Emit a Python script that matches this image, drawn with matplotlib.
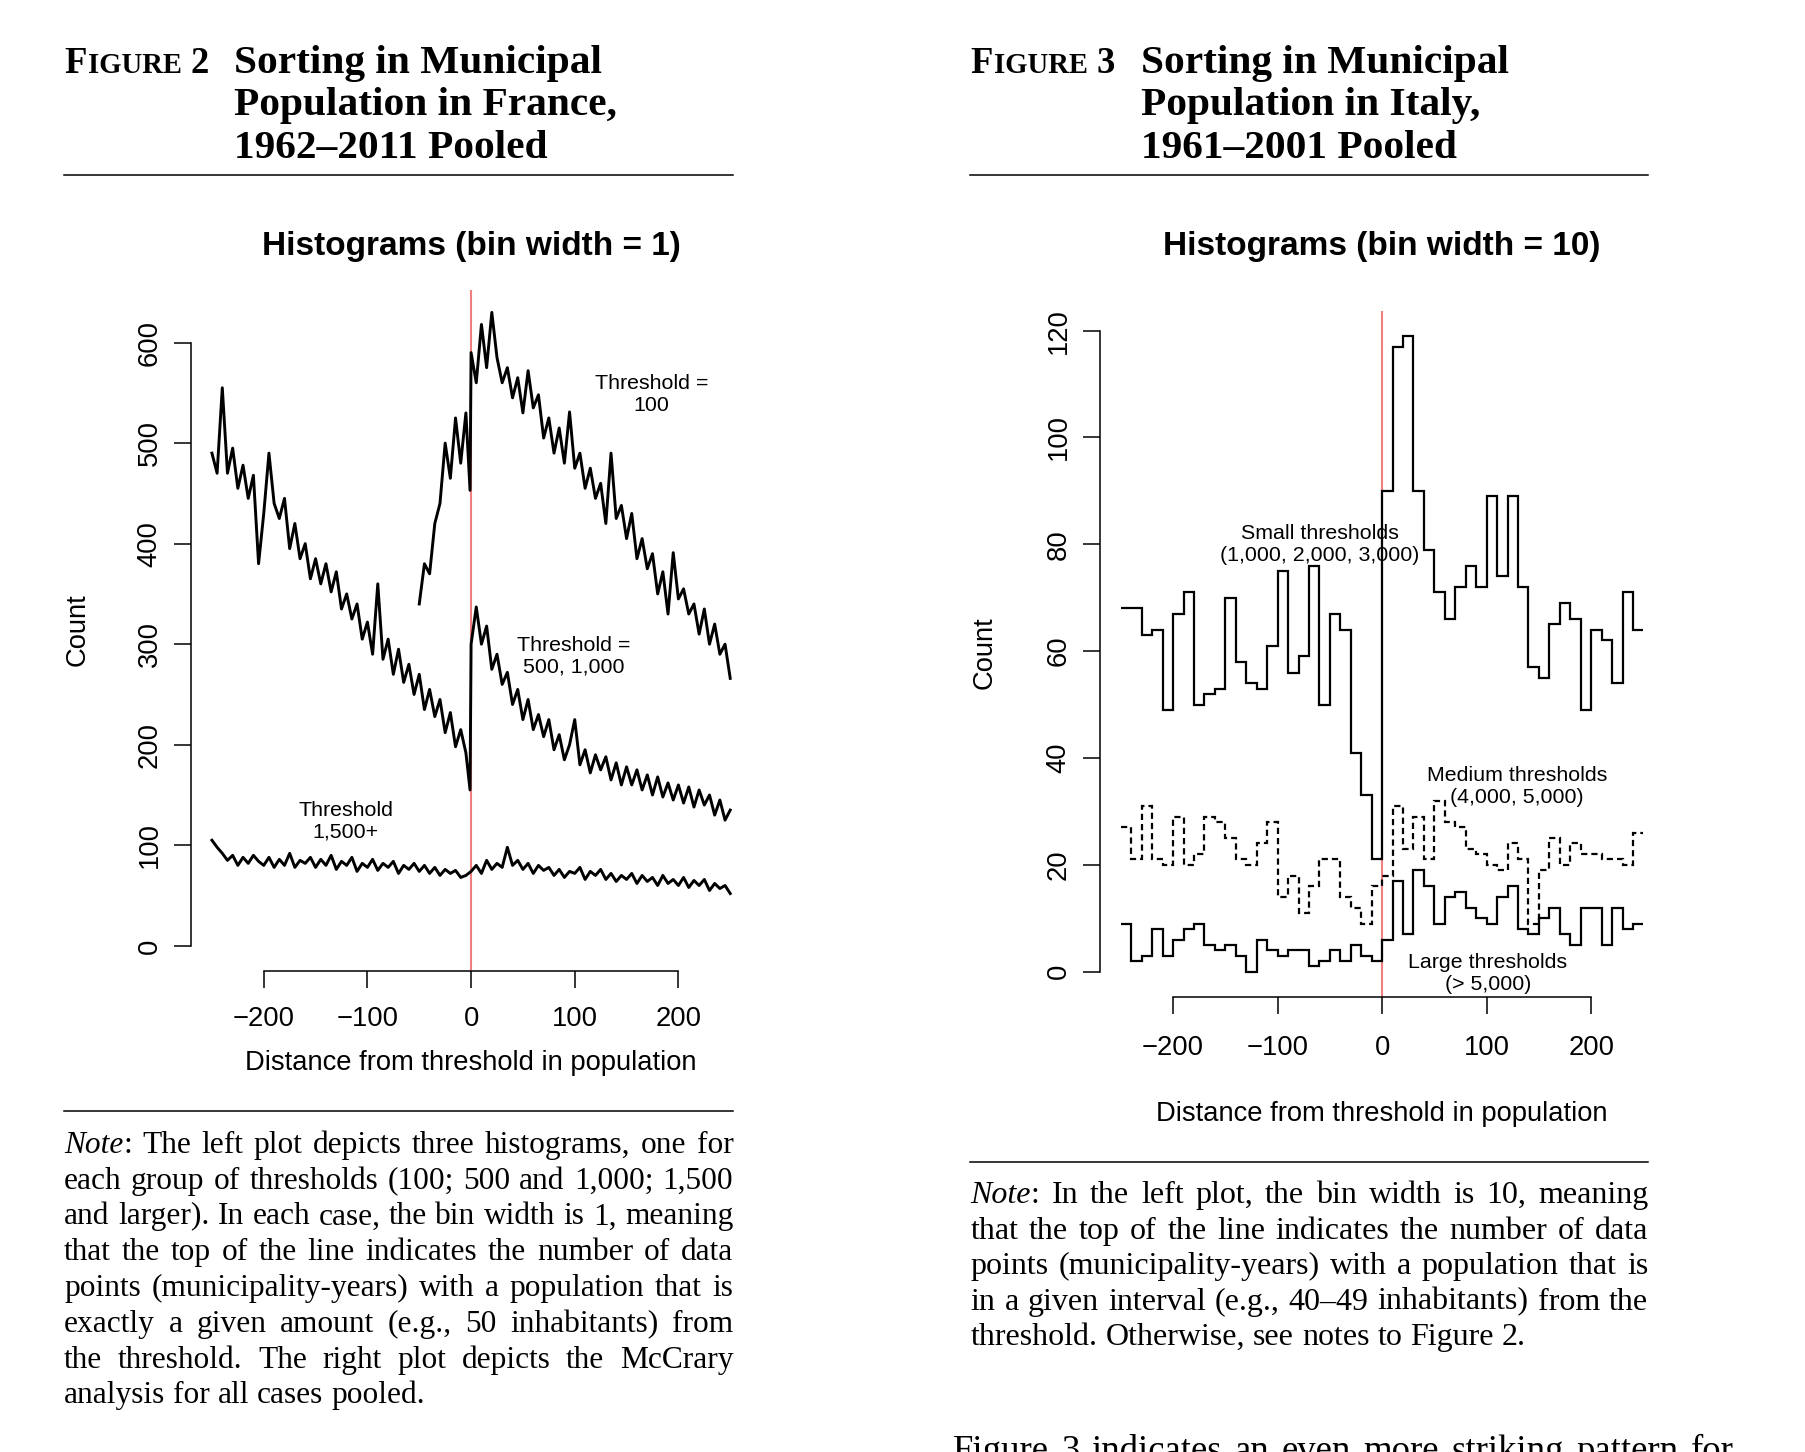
import matplotlib
matplotlib.use("Agg")
import matplotlib.pyplot as plt
from matplotlib.lines import Line2D
import numpy as np

# ---------------------------------------------------------------- data
# France, bin width 1 -- counts every 5 units
fr_x_left = np.r_[np.arange(-250, 0, 5), -1]
fr_x_right = np.arange(0, 251, 5)
fr_x_all = np.arange(-250, 251, 5)
fr100_x_left = np.r_[np.arange(-50, 0, 5), -1]

fr100_left = [340, 380, 370, 420, 440, 500, 465, 525, 480, 530, 453]
fr100_right = [590, 560, 618, 575, 630, 585, 560, 575, 545, 565,
               530, 572, 535, 548, 505, 525, 490, 515, 480, 531,
               475, 490, 455, 475, 445, 460, 420, 490, 425, 438,
               405, 430, 385, 405, 375, 390, 350, 372, 330, 391,
               345, 355, 330, 340, 310, 335, 300, 320, 290, 300,
               266]
fr500_left = [490, 470, 555, 470, 495, 455, 478, 445, 468, 380,
              430, 490, 440, 425, 445, 395, 420, 385, 400, 365,
              385, 360, 380, 352, 372, 335, 350, 325, 340, 305,
              322, 290, 360, 285, 305, 270, 295, 262, 280, 250,
              270, 235, 255, 228, 245, 212, 232, 198, 215, 192,
              155]
fr500_right = [300, 337, 300, 318, 275, 290, 260, 272, 240, 255,
               225, 245, 215, 230, 208, 225, 195, 210, 185, 200,
               225, 180, 195, 172, 190, 175, 188, 165, 182, 160,
               178, 160, 175, 155, 170, 150, 168, 148, 162, 145,
               160, 142, 158, 138, 155, 140, 150, 130, 145, 125,
               135]
fr1500 = [105, 98, 92, 85, 90, 80, 88, 82, 90, 84,
          80, 88, 78, 86, 80, 92, 78, 85, 82, 88,
          78, 86, 80, 90, 76, 84, 80, 88, 74, 82,
          78, 86, 75, 82, 78, 84, 72, 80, 76, 82,
          74, 80, 72, 78, 70, 76, 72, 75, 68, 70,
          74, 80, 72, 85, 76, 82, 78, 98, 80, 85,
          76, 82, 72, 80, 75, 78, 70, 76, 68, 74,
          72, 78, 66, 74, 70, 76, 66, 72, 64, 70,
          66, 72, 62, 70, 64, 68, 60, 70, 62, 66,
          60, 68, 58, 65, 60, 66, 55, 62, 57, 60,
          52]

# Italy, bin width 10
it_edges = np.arange(-250, 251, 10)
it_small = [68, 68, 63, 64, 49, 67, 71, 50, 52, 53, 70, 58, 54, 53, 61, 75, 56, 59, 76, 50,
            67, 64, 41, 33, 21, 90, 117, 119, 90, 79, 71, 66, 72, 76, 72, 89, 74, 89, 72, 57,
            55, 65, 69, 66, 49, 64, 62, 54, 71, 64]
it_medium = [27, 21, 31, 21, 20, 29, 20, 22, 29, 28, 25, 21, 20, 24, 28, 14, 18, 11, 16, 21,
             21, 14, 12, 9, 16, 18, 31, 23, 29, 21, 32, 28, 27, 23, 22, 20, 19, 24, 21, 9,
             19, 25, 20, 24, 22, 22, 21, 21, 20, 26]
it_large = [9, 2, 3, 8, 3, 6, 8, 9, 5, 4, 5, 3, 0, 6, 4, 3, 4, 4, 1, 2,
            4, 2, 5, 3, 2, 6, 17, 7, 19, 16, 9, 14, 15, 12, 10, 9, 14, 16, 8, 7,
            10, 12, 7, 5, 12, 12, 5, 12, 8, 9]

note_left = ["Note: The left plot depicts three histograms, one for",
             "each group of thresholds (100; 500 and 1,000; 1,500",
             "and larger). In each case, the bin width is 1, meaning",
             "that the top of the line indicates the number of data",
             "points (municipality-years) with a population that is",
             "exactly a given amount (e.g., 50 inhabitants) from",
             "the threshold. The right plot depicts the McCrary",
             "analysis for all cases pooled."]
note_right = ["Note: In the left plot, the bin width is 10, meaning",
              "that the top of the line indicates the number of data",
              "points (municipality-years) with a population that is",
              "in a given interval (e.g., 40\u201349 inhabitants) from the",
              "threshold. Otherwise, see notes to Figure 2."]
body_line = "Figure 3 indicates an even more striking pattern for"

# ---------------------------------------------------------------- setup
W, H = 1806, 1452
K = W / 1568.0          # reference-view px -> output px
SANS, SERIF = "Liberation Sans", "Liberation Serif"
RED = "#F08080"
plt.rcParams.update({"font.family": SANS, "axes.linewidth": 1.1,
                     "xtick.major.width": 1.1, "ytick.major.width": 1.1})

fig = plt.figure(figsize=(W / 100, H / 100), dpi=100)
renderer = fig.canvas.get_renderer()


def fxy(x, y):
    return x * K / W, 1 - y * K / H


def width_px(s, size, **kw):
    t = fig.text(0, 0, s, fontsize=size, **kw)
    w = t.get_window_extent(renderer).width
    t.remove()
    return w


def fit(s, target, **kw):
    return 20 * target * K / width_px(s, 20, **kw)


def make_axes(x0, x1, y0, y1):
    l, b = fxy(x0, y1)
    r, t = fxy(x1, y0)
    return fig.add_axes([l, b, r - l, t - b])


lab_size = fit("Distance from threshold in population", 391)
title_size = fit("Histograms (bin width = 10)", 379, weight="bold")
ann_size = fit("Small thresholds", 137)


def style(ax, xb, yb, yticks, xpad):
    for s in ("top", "right"):
        ax.spines[s].set_visible(False)
    ax.spines["left"].set_bounds(*yb)
    ax.spines["bottom"].set_bounds(*xb)
    ax.set_xticks([-200, -100, 0, 100, 200])
    ax.set_yticks(yticks, labels=[str(v) for v in yticks], rotation=90, va="center")
    ax.tick_params(direction="out", length=12.5, labelsize=lab_size)
    ax.tick_params(axis="x", pad=xpad)
    ax.tick_params(axis="y", pad=8)
    ax.patch.set_alpha(0)


# ---------------------------------------------------------------- France
axL = make_axes(166, 652, 252, 843)
axL.set_xlim(-270, 270)
axL.set_ylim(-25, 652)
axL.axvline(0, color=RED, lw=1.5, zorder=1)
LW = 2.1
axL.plot(np.r_[fr100_x_left, fr_x_right], np.r_[fr100_left, fr100_right], color="k", lw=LW)
axL.plot(np.r_[fr_x_left, fr_x_right], np.r_[fr500_left, fr500_right], color="k", lw=LW)
axL.plot(fr_x_all, fr1500, color="k", lw=LW)
axL.text(174, 548, "Threshold =\n100", ha="center", va="center", fontsize=ann_size)
axL.text(99, 288, "Threshold =\n500, 1,000", ha="center", va="center", fontsize=ann_size)
axL.text(-121, 124, "Threshold\n1,500+", ha="center", va="center", fontsize=ann_size)
style(axL, (-200, 200), (0, 600), list(range(0, 601, 100)), 13)

# ---------------------------------------------------------------- Italy
axR = make_axes(955, 1445, 269.6, 865.7)
axR.set_xlim(-270, 270)
axR.set_ylim(-4.76, 123.76)
axR.axvline(0, color=RED, lw=1.5, zorder=1)
axR.stairs(it_small, it_edges, baseline=None, color="k", lw=1.6, zorder=3)
axR.stairs(it_medium, it_edges, baseline=None, color="k", lw=1.6,
           linestyle=(0, (2.8, 1.8)), zorder=3)
axR.stairs(it_large, it_edges, baseline=None, color="k", lw=1.6, zorder=3)
axR.text(-59.5, 79.9, "Small thresholds\n(1,000, 2,000, 3,000)", ha="center", va="center",
         fontsize=ann_size, zorder=4)
axR.text(129, 34.7, "Medium thresholds\n(4,000, 5,000)", ha="center", va="center",
         fontsize=ann_size, zorder=4)
axR.text(101, -0.3, "Large thresholds\n(> 5,000)", ha="center", va="center",
         fontsize=ann_size, zorder=4, clip_on=False)
style(axR, (-200, 200), (0, 120), list(range(0, 121, 20)), 15)

# axis titles and plot titles
fig.text(*fxy(409, 923), "Distance from threshold in population", ha="center", va="center",
         fontsize=lab_size)
fig.text(*fxy(1200, 967), "Distance from threshold in population", ha="center", va="center",
         fontsize=lab_size)
fig.text(*fxy(67, 547), "Count", rotation=90, ha="center", va="center", fontsize=lab_size)
fig.text(*fxy(855, 567), "Count", rotation=90, ha="center", va="center", fontsize=lab_size)
fig.text(*fxy(409, 214), "Histograms (bin width = 1)", ha="center", va="center",
         fontsize=title_size, weight="bold")
fig.text(*fxy(1200, 214), "Histograms (bin width = 10)", ha="center", va="center",
         fontsize=title_size, weight="bold")

# ---------------------------------------------------------------- headers
hsize = fit("Sorting in Municipal", 319, family=SERIF, weight="bold")
base_y = [63, 100, 137]
BOLD = dict(family=SERIF, weight="bold")


def header(x_fig, x_txt, num, lines):
    kw = dict(BOLD, va="baseline", ha="left")
    parts = [("F", 1.0), ("IGURE", 0.78)]
    nat = sum(width_px(s, hsize * f, **BOLD) + 1.0 for s, f in parts)
    nat += 0.22 * hsize * 100 / 72 + width_px(num, hsize, **BOLD)
    g = min(1.0, 125.4 * K / nat)
    x = x_fig * K
    yb = fxy(0, base_y[0])[1]
    for s, f in parts:
        fig.text(x / W, yb, s, fontsize=hsize * f * g, **kw)
        x += width_px(s, hsize * f * g, **BOLD) + 1.0
    x += 0.22 * hsize * g * 100 / 72
    fig.text(x / W, yb, num, fontsize=hsize * g, **kw)
    for s, y in zip(lines, base_y):
        fig.text(*fxy(x_txt, y), s, fontsize=hsize, **kw)


header(55.6, 203.5, "2", ["Sorting in Municipal", "Population in France,", "1962\u20132011 Pooled"])
header(842.5, 990.8, "3", ["Sorting in Municipal", "Population in Italy,", "1961\u20132001 Pooled"])


def rule(x0, x1, y):
    (a, yy), (b, _) = fxy(x0, y), fxy(x1, y)
    fig.add_artist(Line2D([a, b], [yy, yy], transform=fig.transFigure, color="k", lw=1.1))


rule(55.6, 636.7, 152)
rule(842.6, 1431, 152)
rule(55.6, 636.7, 965)
rule(842.6, 1431, 1008.6)


# ---------------------------------------------------------------- justified notes
def segments(word):
    if word.startswith("Note"):
        return [("Note", "italic"), (word[4:], "normal")]
    return [(word, "normal")]


def word_w(word, size):
    return sum(width_px(s, size, family=SERIF, style=st) for s, st in segments(word) if s)


def space_w(size):
    return width_px("n n", size, family=SERIF) - 2 * width_px("n", size, family=SERIF)


def paragraph(lines, x0, x1, y0, step, cap, last_left=True):
    target = (x1 - x0) * K
    full = lines[:-1] if last_left else lines
    nat = max(sum(word_w(w, 20) for w in ln.split()) + (len(ln.split()) - 1) * space_w(20)
              for ln in full)
    size = min(cap, 20 * 0.99 * target / nat)
    sp = space_w(size)
    for i, ln in enumerate(lines):
        words = ln.split()
        ws = [word_w(w, size) for w in words]
        if last_left and i == len(lines) - 1:
            gap = sp
        else:
            gap = (target - sum(ws)) / (len(words) - 1)
        x = x0 * K
        yb = fxy(0, y0 + i * step)[1]
        for w, ww in zip(words, ws):
            xs = x
            for s, st in segments(w):
                if not s:
                    continue
                fig.text(xs / W, yb, s, fontsize=size, family=SERIF, style=st,
                         va="baseline", ha="left")
                xs += width_px(s, size, family=SERIF, style=st)
            x += ww + gap


paragraph(note_left, 55.6, 636.7, 1000.8, 31.1, 24.5)
paragraph(note_right, 842.6, 1431, 1044.6, 30.8, 24.5)
# body text continuing below the figure; cut by the page edge as in the source
paragraph([body_line], 827, 1505, 1268.4, 30, 26.5, last_left=False)

fig.savefig("out.png", dpi=100, facecolor="white")
